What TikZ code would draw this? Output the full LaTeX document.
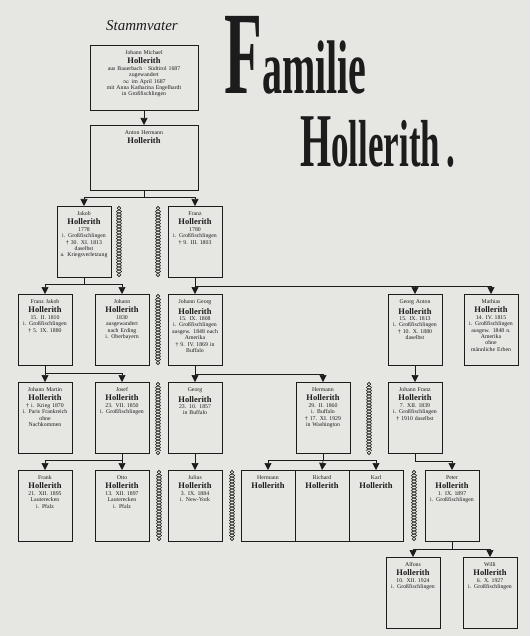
\documentclass[tikz,border=0pt]{standalone}
\usepackage{fontspec}
\setmainfont{Liberation Serif}
\usetikzlibrary{arrows.meta}
\definecolor{papier}{RGB}{230,230,227}
\definecolor{tinte}{RGB}{28,28,28}
\newcommand\hol{{\bfseries\fontsize{8.5}{9}\selectfont\rule{0pt}{8.5pt}Hollerith}}
\newcommand\tot{†}
\newcommand\ehe{$\infty$}
% Kette zwischen Geschwistern: x, oben, Laenge
\newcommand\kette[3]{%
  \draw[kette] plot[domain=0:#3, samples=90, smooth] ({#1+2.5*sin(60*\x)},{#2+\x});
  \draw[kette] plot[domain=0:#3, samples=90, smooth] ({#1-2.5*sin(60*\x)},{#2+\x});
  \draw[kette] (#1,#2-1.8) circle (1.8) (#1,#2+#3+1.8) circle (1.8);}
\tikzset{
  karte/.style={draw=tinte, line width=0.8pt, anchor=north, text width=52pt, align=center,
    inner sep=1pt, text height=8pt, text depth=61pt, text=tinte,
    font=\fontsize{5.8}{6.4}\selectfont},
  stamm/.style={karte, text width=106pt, text depth=55pt},
  titel/.style={text=tinte, anchor=base west, inner sep=0pt, transform shape, yscale=1.9},
  linie/.style={draw=tinte, line width=0.7pt},
  pfeil/.style={linie, -{Triangle[width=7pt,length=7pt]}},
  kette/.style={draw=tinte, line width=0.6pt}
}
\begin{document}
\begin{tikzpicture}[x=1pt, y=-1pt]
\useasboundingbox (0,0) rectangle (530,636);
\fill[papier] (0,0) rectangle (530,636);

% Titel
\node[text=tinte, font=\itshape\fontsize{15}{15}\selectfont] (stammvater) at (142,26) {Stammvater};
\node[titel, font=\bfseries\fontsize{40}{40}\selectfont] (familie) at (224,94) {{\fontsize{62}{62}\selectfont F}amilie};
\node[titel, font=\bfseries\fontsize{35}{35}\selectfont] (name) at (300,167) {{\fontsize{40}{40}\selectfont H}ollerith\,.};

% Stammvater und Sohn
\node[stamm] (stamm) at (144,45) {Johann Michael\\\hol\\aus Bauerbach · Südtirol 1687\\zugewandert\\\ehe\ im April 1687\\mit Anna Katharina Engelhardt\\in Großfischlingen};
\node[stamm] (anton) at (144,125) {Anton Hermann\\\hol};

% 2. Reihe
\node[karte] (jakob) at (84,206) {Jakob\\\hol\\* 1778\\i. Großfischlingen\\\tot\ 30. XI. 1813\\daselbst\\a. Kriegsverletzung};
\node[karte] (franz) at (195,206) {Franz\\\hol\\* 1780\\i. Großfischlingen\\\tot\ 9. III. 1803};

% 3. Reihe
\node[karte] (fjakob) at (45,294) {Franz Jakob\\\hol\\* 15. II. 1810\\i. Großfischlingen\\\tot\ 5. IX. 1880};
\node[karte] (johann) at (122,294) {Johann\\\hol\\1830\\ausgewandert\\nach Erding\\i. Oberbayern};
\node[karte] (jgeorg) at (195,294) {Johann Georg\\\hol\\* 15. IX. 1808\\i. Großfischlingen\\ausgew. 1848 nach\\Amerika\\\tot\ 9. IV. 1869 in\\Buffalo};
\node[karte] (ganton) at (415,294) {Georg Anton\\\hol\\* 15. IX. 1813\\i. Großfischlingen\\\tot\ 10. X. 1880\\daselbst};
\node[karte] (mathias) at (491,294) {Mathias\\\hol\\* 14. IV. 1815\\i. Großfischlingen\\ausgew. 1848 n.\\Amerika\\ohne\\männliche Erben};

% 4. Reihe
\node[karte] (jmartin) at (45,382) {Johann Martin\\\hol\\\tot\ i. Krieg 1870\\i. Paris Frankreich\\ohne\\Nachkommen};
\node[karte] (josef) at (122,382) {Josef\\\hol\\* 23. VII. 1850\\i. Großfischlingen};
\node[karte] (georg) at (195,382) {Georg\\\hol\\* 23. 10. 1857\\in Buffalo};
\node[karte] (hermann) at (323,382) {Hermann\\\hol\\* 29. II. 1860\\i. Buffalo\\\tot\ 17. XI. 1929\\in Washington};
\node[karte] (jfranz) at (415,382) {Johann Franz\\\hol\\* 7. XII. 1839\\i. Großfischlingen\\\tot\ 1910 daselbst};

% 5. Reihe
\node[karte] (frank) at (45,470) {Frank\\\hol\\* 21. XII. 1895\\Lauterecken\\i. Pfalz};
\node[karte] (otto) at (122,470) {Otto\\\hol\\* 13. XII. 1897\\Lauterecken\\i. Pfalz};
\node[karte] (julius) at (195,470) {Julius\\\hol\\* 3. IX. 1884\\i. New-York};
\node[karte] (hermannb) at (268,470) {Hermann\\\hol};
\node[karte] (richard) at (322,470) {Richard\\\hol};
\node[karte] (karl) at (376,470) {Karl\\\hol};
\node[karte] (peter) at (452,470) {Peter\\\hol\\* 1. IX. 1897\\i. Großfischlingen};

% 6. Reihe
\node[karte] (alfons) at (413,557) {Alfons\\\hol\\* 10. XII. 1924\\i. Großfischlingen};
\node[karte] (willi) at (490,557) {Willi\\\hol\\* 6. X. 1927\\i. Großfischlingen};

% Verbindungen
\draw[pfeil] (stamm) -- (anton);
\draw[linie] (anton.south) -- ++(0,7) coordinate (a1);
\draw[pfeil] (a1) -| (jakob.north);
\draw[pfeil] (a1) -| (franz.north);
\draw[linie] (jakob.south) -- ++(0,7) coordinate (j1);
\draw[pfeil] (j1) -| (fjakob.north);
\draw[pfeil] (j1) -| (johann.north);
\draw[linie] (franz.south) -- ++(0,9) coordinate (f1);
\draw[pfeil] (f1) -- (jgeorg.north);
\draw[pfeil] (f1) -| (ganton.north);
\draw[pfeil] (f1) -| (mathias.north);
\draw[linie] (fjakob.south) -- ++(0,8) coordinate (fj1);
\draw[pfeil] (fj1) -- (jmartin.north);
\draw[pfeil] (fj1) -| (josef.north);
\draw[linie] (jgeorg.south) -- ++(0,9) coordinate (g1);
\draw[pfeil] (g1) -- (georg.north);
\draw[pfeil] (g1) -| (hermann.north);
\draw[pfeil] (ganton) -- (jfranz);
\draw[linie] (josef.south) -- ++(0,7) coordinate (js1);
\draw[pfeil] (js1) -| (frank.north);
\draw[pfeil] (js1) -- (otto.north);
\draw[pfeil] (georg) -- (julius);
\draw[linie] (hermann.south) -- ++(0,7) coordinate (h1);
\draw[pfeil] (h1) -| (hermannb.north);
\draw[pfeil] (h1) -- (richard.north);
\draw[pfeil] (h1) -| (karl.north);
\draw[linie] (jfranz.south) -- ++(0,8) coordinate (jf1);
\draw[pfeil] (jf1) -| (peter.north);
\draw[linie] (peter.south) -- ++(0,8) coordinate (p1);
\draw[pfeil] (p1) -| (alfons.north);
\draw[pfeil] (p1) -| (willi.north);

% Ketten
\kette{119}{210}{63}
\kette{158}{210}{63}
\kette{158}{298}{63}
\kette{158}{386}{65}
\kette{369}{386}{65}
\kette{159}{474}{63}
\kette{232}{474}{63}
\kette{414}{474}{63}
\end{tikzpicture}
\end{document}
